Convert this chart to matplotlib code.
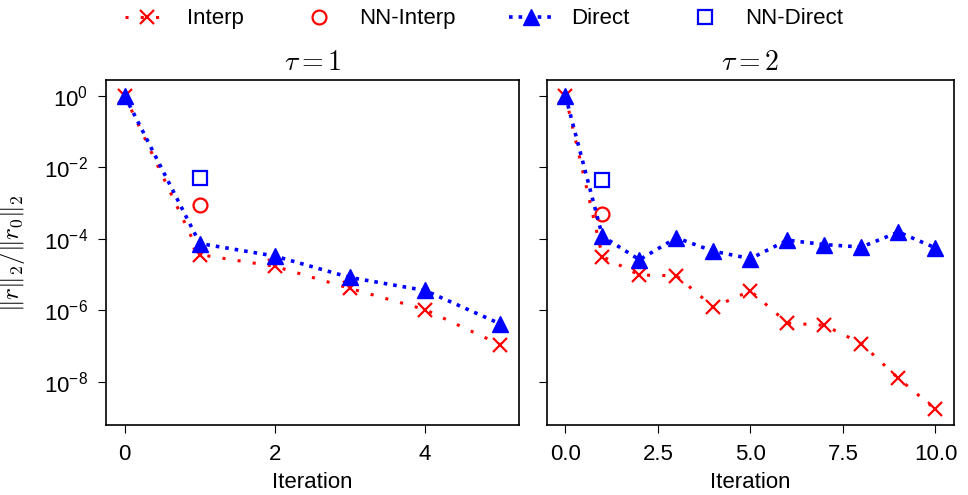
import numpy as np
import matplotlib
matplotlib.use("Agg")
import matplotlib.pyplot as plt

plt.rcParams['font.family'] = ['Liberation Sans', 'DejaVu Sans']
plt.rcParams['mathtext.fontset'] = 'cm'

# residual history, tau = 1
it1 = [0, 1, 2, 3, 4, 5]
interp1 = [1.0, 3.6e-5, 1.7e-5, 4.1e-6, 1.05e-6, 1.1e-7]
direct1 = [1.0, 7.4e-5, 3.3e-5, 8.3e-6, 3.6e-6, 4.2e-7]
nn_interp1 = 8.6e-4
nn_direct1 = 5.1e-3

# residual history, tau = 2
it2 = [0, 1, 2, 3, 4, 5, 6, 7, 8, 9, 10]
interp2 = [1.0, 3.2e-5, 9.7e-6, 9.3e-6, 1.23e-6, 3.5e-6, 4.4e-7, 3.8e-7, 1.18e-7, 1.24e-8, 1.7e-9]
direct2 = [1.0, 1.18e-4, 2.6e-5, 1.07e-4, 4.5e-5, 2.8e-5, 9.2e-5, 6.9e-5, 5.9e-5, 1.55e-4, 5.6e-5]
nn_interp2 = 4.8e-4
nn_direct2 = 4.3e-3

titles = [r'$\tau = 1$', r'$\tau = 2$']

fig = plt.figure(figsize=(9.68, 4.95), dpi=100)
ax1 = fig.add_axes([0.1095, 0.1414, 0.4265, 0.6966])
ax2 = fig.add_axes([0.565, 0.1414, 0.4205, 0.6966], sharey=ax1)

data = [(ax1, it1, interp1, direct1, nn_interp1, nn_direct1),
        (ax2, it2, interp2, direct2, nn_interp2, nn_direct2)]

for k, (ax, it, ip, dr, nni, nnd) in enumerate(data):
    ax.plot(it, ip, color='red', linestyle=(0, (1, 4)), linewidth=2.2,
            marker='x', markersize=10, markeredgewidth=1.6, label='Interp')
    ax.plot([1], [nni], linestyle='none', marker='o', markersize=10,
            markerfacecolor='none', markeredgecolor='red', markeredgewidth=1.6,
            label='NN-Interp')
    ax.plot(it, dr, color='blue', linestyle=':', linewidth=2.6,
            marker='^', markersize=11, label='Direct')
    ax.plot([1], [nnd], linestyle='none', marker='s', markersize=10,
            markerfacecolor='none', markeredgecolor='blue', markeredgewidth=1.6,
            label='NN-Direct')
    ax.set_yscale('log')
    ax.set_title(titles[k], fontsize=20, pad=7)
    ax.set_xlabel('Iteration', fontsize=16, labelpad=4.5)
    ax.tick_params(axis='x', labelsize=16, length=6, pad=8)
    ax.tick_params(axis='y', labelsize=16, length=6, pad=7)
    ax.minorticks_off()
    for s in ax.spines.values():
        s.set_linewidth(1.2)

ax1.set_yticks([1e0, 1e-2, 1e-4, 1e-6, 1e-8])
ax1.minorticks_off()
ax1.set_xticks([0, 2, 4])
ax2.set_xticks([0, 2.5, 5, 7.5, 10])
ax2.set_xticklabels(['0.0', '2.5', '5.0', '7.5', '10.0'])
ax2.tick_params(labelleft=False)
ax1.set_ylabel(r'$\|r\|_2/\|r_0\|_2$', fontsize=18, labelpad=12)

handles, labels = ax1.get_legend_handles_labels()
fig.legend(handles, labels, loc='center', bbox_to_anchor=(0.5, 0.962), ncol=4,
           frameon=False, fontsize=16, columnspacing=2.4, handlelength=2.0)

fig.savefig('out.png', dpi=100)
